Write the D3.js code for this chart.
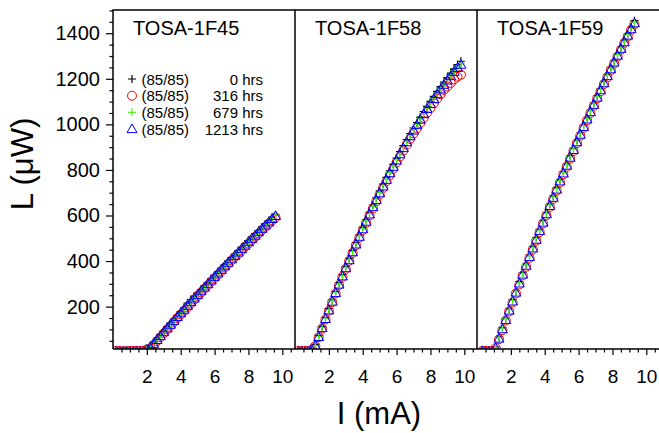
<!DOCTYPE html>
<html>
<head>
<meta charset="utf-8">
<script src="https://cdn.jsdelivr.net/npm/d3@7"></script>
<style>
  html, body { margin: 0; padding: 0; background: #fff; }
  svg { display: block; font-family: "Liberation Sans", Arial, sans-serif; }
</style>
</head>
<body>
<svg id="chart" width="659" height="433"></svg>
<script>
// L-I curves of three TOSAs after 85 °C / 85 %RH damp-heat aging
const devices = ["TOSA-1F45", "TOSA-1F58", "TOSA-1F59"];
const agingHours = [0, 316, 679, 1213];
const stressLabel = "(85/85)";
const xTickValues = [2, 4, 6, 8, 10];
const yTickValues = [200, 400, 600, 800, 1000, 1200, 1400];

// drive current, mA
const currentF45 = [0.2,0.4,0.6,0.8,1,1.2,1.4,1.6,1.8,2,2.2,2.4,2.6,2.8,3,3.2,3.4,3.6,3.8,4,4.2,4.4,4.6,4.8,5,5.2,5.4,5.6,5.8,6,6.2,6.4,6.6,6.8,7,7.2,7.4,7.6,7.8,8,8.2,8.4,8.6,8.8,9,9.2,9.4,9.6];
const currentF58 = [0.2,0.4,0.6,0.8,1,1.2,1.4,1.6,1.8,2,2.2,2.4,2.6,2.8,3,3.2,3.4,3.6,3.8,4,4.2,4.4,4.6,4.8,5,5.2,5.4,5.6,5.8,6,6.2,6.4,6.6,6.8,7,7.2,7.4,7.6,7.8,8,8.2,8.4,8.6,8.8,9,9.2,9.4,9.6,9.8];
const currentF59 = [0.3,0.5,0.7,0.9,1.1,1.3,1.5,1.7,1.9,2.1,2.3,2.5,2.7,2.9,3.1,3.3,3.5,3.7,3.9,4.1,4.3,4.5,4.7,4.9,5.1,5.3,5.5,5.7,5.9,6.1,6.3,6.5,6.7,6.9,7.1,7.3,7.5,7.7,7.9,8.1,8.3,8.5,8.7,8.9,9.1,9.3];

// optical power, µW
const powerF45_0h    = [4,3,4,5,4,3,4,5,6,14,27,44,62,78,95,112,129,145,162,178,195,215,231,245,259,275,291,306,322,338,353,369,385,400,415,430,445,460,475,490,505,519,534,549,563,577,592,603];
const powerF45_316h  = [6,5,4,5,6,5,6,5,6,12,17,33,49,66,83,100,116,133,150,166,182,198,214,231,247,262,279,294,310,325,341,356,372,387,403,418,432,447,463,477,492,507,521,536,550,564,579,592];
const powerF45_679h  = [3,4,5,3,4,5,4,5,7,13,23,40,57,74,91,108,124,141,158,174,190,207,223,239,255,271,287,302,318,334,349,365,380,396,411,426,441,456,471,486,501,515,530,545,559,573,588,602];
const powerF45_1213h = [2,2,3,2,3,2,3,2,4,12,20,37,54,71,88,105,121,138,155,171,187,204,220,236,252,268,284,299,315,331,346,362,377,393,408,423,438,453,468,483,498,512,527,542,556,570,585,598];

const powerF58_0h    = [4,5,4,6,14,34,74,113,153,191,229,267,305,341,377,412,447,481,515,549,582,614,646,677,708,738,767,796,824,852,880,907,933,959,984,1008,1032,1056,1079,1101,1123,1145,1166,1186,1205,1225,1244,1262,1277];
const powerF58_316h  = [6,5,6,5,12,27,66,104,144,182,220,258,295,331,366,401,436,470,503,536,568,600,631,662,692,721,750,778,805,833,859,885,911,936,960,983,1006,1029,1051,1072,1093,1113,1132,1151,1166,1182,1197,1209,1218];
const powerF58_679h  = [3,4,4,5,13,30,70,109,149,187,225,263,300,336,372,407,442,476,510,543,576,608,640,671,701,731,760,789,817,845,872,899,925,951,976,1000,1024,1048,1071,1093,1115,1136,1157,1177,1196,1215,1234,1251,1266];
const powerF58_1213h = [2,3,2,4,12,28,67,106,146,184,222,260,297,333,369,404,439,473,507,540,573,605,637,668,698,728,757,786,814,842,869,896,922,948,973,997,1021,1045,1068,1090,1112,1133,1154,1174,1193,1212,1231,1248,1262];

const powerF59_0h    = [4,3,5,4,22,66,108,149,190,231,268,310,349,386,426,463,502,539,577,613,650,685,722,757,793,826,862,895,930,962,997,1029,1062,1093,1126,1157,1189,1219,1250,1279,1310,1339,1369,1397,1426,1455];
const powerF59_316h  = [5,6,5,6,18,57,97,139,179,219,258,297,337,375,414,451,490,527,565,601,638,673,710,745,781,814,850,883,918,950,985,1017,1050,1081,1114,1145,1177,1207,1238,1267,1298,1327,1357,1385,1414,1440];
const powerF59_679h  = [3,5,4,3,20,64,106,146,188,227,267,306,346,384,423,460,499,536,574,610,647,682,719,754,790,823,859,892,927,959,994,1026,1059,1090,1123,1154,1186,1216,1247,1276,1307,1336,1366,1394,1423,1446];
const powerF59_1213h = [6,2,3,2,19,60,101,142,183,223,262,302,341,380,418,456,494,532,569,606,642,678,714,750,785,819,854,888,922,955,989,1022,1054,1086,1118,1150,1181,1212,1242,1272,1302,1332,1361,1390,1418,1444];

const panels = [
  { name: devices[0], current: currentF45, series: [powerF45_0h, powerF45_316h, powerF45_679h, powerF45_1213h] },
  { name: devices[1], current: currentF58, series: [powerF58_0h, powerF58_316h, powerF58_679h, powerF58_1213h] },
  { name: devices[2], current: currentF59, series: [powerF59_0h, powerF59_316h, powerF59_679h, powerF59_1213h] }
];

// marker style per aging step
const markers = [
  { type: "plus",     color: "#000000" },
  { type: "circle",   color: "#ff0000" },
  { type: "plus",     color: "#55ee22" },
  { type: "triangle", color: "#0000ff" }
];

const svg = d3.select("#chart");
const plotLeft = 113, plotTop = 10, plotBottom = 349, panelW = 182;

const x = d3.scaleLinear().domain([0, 10.75]).range([0, panelW]);
const y = d3.scaleLinear().domain([14, 1502]).range([plotBottom, plotTop]);

function drawMarker(g, type, color) {
  if (type === "plus") {
    g.append("path").attr("d", "M-4,0H4M0,-4V4")
      .attr("stroke", color).attr("stroke-width", 1.2).attr("fill", "none");
  } else if (type === "circle") {
    g.append("circle").attr("r", 4.5)
      .attr("stroke", color).attr("stroke-width", 1).attr("fill", "none");
  } else {
    g.append("path").attr("d", "M0,-5L5,3.6H-5Z")
      .attr("stroke", color).attr("stroke-width", 1).attr("fill", "none");
  }
}

svg.append("defs").append("clipPath").attr("id", "plotClip")
  .append("rect").attr("x", 0).attr("y", plotTop)
  .attr("width", panelW).attr("height", plotBottom - plotTop);

panels.forEach((p, i) => {
  const g = svg.append("g").attr("transform", `translate(${plotLeft + i * panelW},0)`);

  // data markers
  const dataG = g.append("g").attr("clip-path", "url(#plotClip)");
  p.series.forEach((vals, s) => {
    const m = markers[s];
    vals.forEach((v, k) => {
      const mg = dataG.append("g")
        .attr("transform", `translate(${x(p.current[k])},${y(v)})`);
      drawMarker(mg, m.type, m.color);
    });
  });

  // minor x ticks
  const minorX = [];
  for (let t = 0.5; t <= 10.5; t += 0.5) if (t % 2 !== 0) minorX.push(t);
  g.append("g").attr("transform", `translate(0,${plotBottom})`)
    .call(d3.axisBottom(x).tickValues(minorX).tickSize(3.5).tickFormat(""))
    .call(a => a.select(".domain").remove())
    .selectAll("line").attr("stroke", "#000").attr("stroke-width", 1.2);

  // major x ticks + labels
  g.append("g").attr("transform", `translate(0,${plotBottom})`)
    .call(d3.axisBottom(x).tickValues(xTickValues).tickSize(6).tickPadding(14.5))
    .call(a => a.select(".domain").remove())
    .call(a => a.selectAll("line").attr("stroke", "#000").attr("stroke-width", 1.2))
    .call(a => a.selectAll("text").attr("font-size", 19).attr("fill", "#000")
      .attr("font-family", "Liberation Sans, Arial, sans-serif"));

  // panel frame
  g.append("path")
    .attr("d", `M0,${plotBottom}V${plotTop}H${panelW}M0,${plotBottom}H${panelW}`)
    .attr("stroke", "#000").attr("stroke-width", 1.5).attr("fill", "none");

  // device name
  g.append("text").attr("x", 20).attr("y", 35)
    .attr("font-size", 20).attr("fill", "#000").text(p.name);
});

// y axis on the first panel
const yMinor = [];
for (let v = 50; v <= 1500; v += 50) if (v % 200 !== 0) yMinor.push(v);
svg.append("g").attr("transform", `translate(${plotLeft},0)`)
  .call(d3.axisLeft(y).tickValues(yMinor).tickSize(3.5).tickFormat(""))
  .call(a => a.select(".domain").remove())
  .selectAll("line").attr("stroke", "#000").attr("stroke-width", 1.2);
svg.append("g").attr("transform", `translate(${plotLeft},0)`)
  .call(d3.axisLeft(y).tickValues(yTickValues).tickSize(7).tickPadding(6).tickFormat(d3.format("d")))
  .call(a => a.select(".domain").remove())
  .call(a => a.selectAll("line").attr("stroke", "#000").attr("stroke-width", 1.2))
  .call(a => a.selectAll("text").attr("font-size", 20).attr("fill", "#000")
    .attr("font-family", "Liberation Sans, Arial, sans-serif"));

// legend inside the first panel
const legend = svg.append("g");
const rowY = [79, 95.7, 112.3, 129];
agingHours.forEach((h, s) => {
  const m = markers[s];
  const mg = legend.append("g").attr("transform", `translate(132,${rowY[s]})`);
  drawMarker(mg, m.type, m.color);
  legend.append("text").attr("x", 141.5).attr("y", rowY[s] + 5.5)
    .attr("font-size", 15).attr("fill", "#000").text(stressLabel);
  legend.append("text").attr("x", 263).attr("y", rowY[s] + 5.5)
    .attr("text-anchor", "end").attr("font-size", 15).attr("fill", "#000")
    .text(`${h} hrs`);
});

// axis titles
svg.append("text").attr("transform", "translate(33,164) rotate(-90)")
  .attr("text-anchor", "middle").attr("font-size", 31).attr("fill", "#000")
  .text("L (\u03bcW)");
svg.append("text").attr("x", 379).attr("y", 424)
  .attr("text-anchor", "middle").attr("font-size", 31).attr("fill", "#000")
  .text("I (mA)");
</script>
</body>
</html>
